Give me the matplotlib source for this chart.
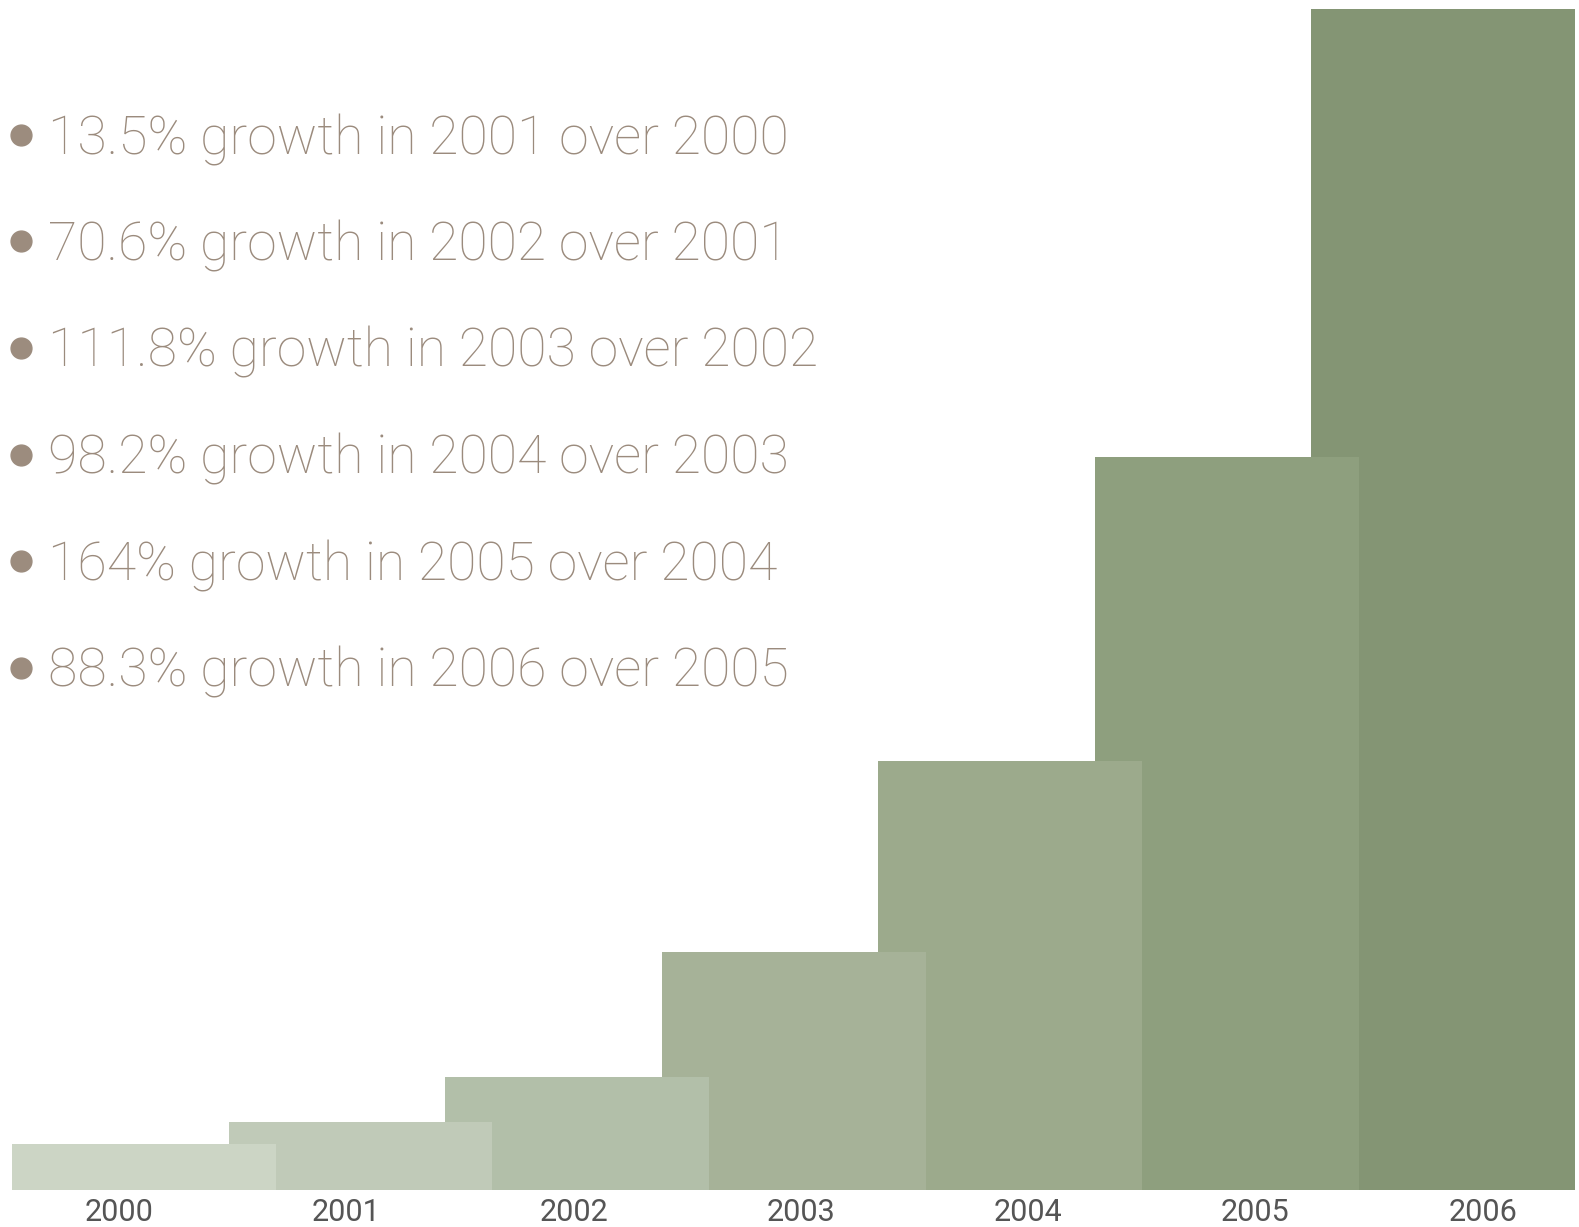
import matplotlib.pyplot as plt
from matplotlib.lines import Line2D

# data
years = ["2000", "2001", "2002", "2003", "2004", "2005", "2006"]
values = [46, 68, 113, 238, 429, 733, 1181]
colors = ["#ccd5c5", "#c0cab8", "#b2bfa9", "#a6b298", "#9caa8c", "#8e9f7e", "#849574"]
notes = [
    "13.5% growth in 2001 over 2000",
    "70.6% growth in 2002 over 2001",
    "111.8% growth in 2003 over 2002",
    "98.2% growth in 2004 over 2003",
    "164% growth in 2005 over 2004",
    "88.3% growth in 2006 over 2005",
]

W, H = 1579, 1227
fig = plt.figure(figsize=(W / 100, H / 100), dpi=100)
fig.patch.set_facecolor("white")

base = 1190
ax = fig.add_axes([0, (H - base) / H, 1, base / H])
step = 216.5
width = 264 / step
for i in range(len(years)):
    # earlier bars sit on top of later ones
    ax.bar(i, values[i], width=width, align="edge", color=colors[i],
           zorder=20 - i, linewidth=0)
ax.set_xlim(-12 / step, (W - 12) / step)
ax.set_ylim(0, base)
ax.axis("off")

# year labels on their own even scale
lstep = 227.3
lab = fig.add_axes([0, (H - base) / H, 1, base / H], frameon=False)
lab.set_xlim(-119 / lstep, (W - 119) / lstep)
lab.set_ylim(0, 1)
lab.set_xticks(range(len(years)))
lab.set_xticklabels(years, fontsize=22, color="#555555", family="Roboto")
lab.tick_params(axis="x", length=0, pad=6)
lab.set_yticks([])
lab.patch.set_alpha(0)

text_color = "#9b8b7d"
for k, note in enumerate(notes):
    yb = 154 + 106.5 * k
    fig.text(48 / W, 1 - yb / H, note, fontsize=38.5, color=text_color,
             family="Roboto", fontweight="light", va="baseline", ha="left")
    fig.add_artist(Line2D([21 / W], [1 - (yb - 19) / H], marker="o",
                          markersize=15, color="#9c8c7e", linestyle="none",
                          transform=fig.transFigure))

fig.savefig("out.png", dpi=100, facecolor="white")
